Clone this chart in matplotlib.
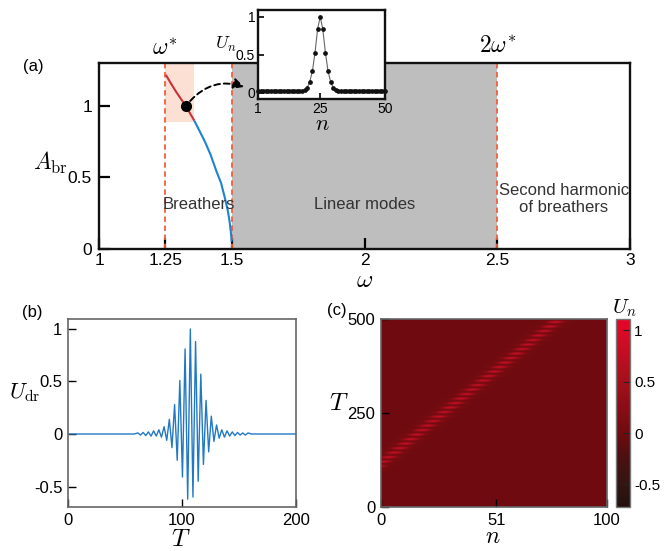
import numpy as np
import matplotlib
matplotlib.use("Agg")
import matplotlib.pyplot as plt
from matplotlib import font_manager
from matplotlib.colors import LinearSegmentedColormap
from matplotlib.patches import Rectangle, FancyArrowPatch

# ---------------- data ----------------
# (a) breather amplitude versus driving frequency
omega_curve = [1.252, 1.27, 1.29, 1.3265, 1.359, 1.38, 1.399, 1.42, 1.443,
               1.46, 1.475, 1.485, 1.492, 1.4965, 1.4997]
A_curve = [1.217, 1.16, 1.10, 1.0, 0.897, 0.82, 0.75, 0.66, 0.54,
           0.46, 0.35, 0.27, 0.19, 0.12, 0.05]
omega_split = 1.359          # end of the stable (red) branch
omega_star = 1.25
omega_edge = 1.5
omega_2star = 2.5
dot_omega, dot_A = 1.3265, 1.0

# inset: breather profile U_n
n_sites_inset = list(range(1, 51))
U_profile = [0.02, 0.02, 0.02, 0.02, 0.02, 0.02, 0.02, 0.02, 0.02, 0.02,
             0.02, 0.02, 0.02, 0.02, 0.02, 0.02, 0.02, 0.02, 0.04, 0.07,
             0.15, 0.29, 0.53, 0.84, 1.00, 0.84, 0.53, 0.29, 0.15, 0.07,
             0.04, 0.02, 0.02, 0.02, 0.02, 0.02, 0.02, 0.02, 0.02, 0.02,
             0.02, 0.02, 0.02, 0.02, 0.02, 0.02, 0.02, 0.02, 0.02, 0.02]

# (b) driving signal: successive extrema of U_dr(T)
T_drive = [0, 58.0,
           61.3, 63.6, 65.9, 68.2, 70.5, 72.8, 75.1, 77.4, 79.7, 82.0,
           84.3, 86.6, 88.9, 91.2, 93.5, 95.8, 98.1, 100.4, 102.7, 105.0,
           107.3, 109.6, 111.9, 114.2, 116.5, 118.8, 121.1, 123.4, 125.7, 128.0,
           130.3, 132.6, 134.9, 137.2, 139.5, 141.8, 144.1, 146.4, 148.7, 151.0,
           153.3, 155.6, 157.9, 161.0, 200]
U_drive = [0, 0.0,
           0.01, -0.01, 0.015, -0.015, 0.02, -0.02, 0.03, -0.02, 0.04, -0.03,
           0.07, -0.06, 0.14, -0.13, 0.28, -0.25, 0.51, -0.41, 0.81, -0.62,
           1.00, -0.60, 0.88, -0.45, 0.57, -0.29, 0.32, -0.17, 0.17, -0.07,
           0.086, -0.04, 0.04, -0.03, 0.03, -0.02, 0.02, -0.015, 0.015, -0.01,
           0.01, -0.01, 0.01, 0.0, 0.0]

# (c) travelling breather: path of its centre, cross-section and brightness cycle
track_T = [118, 500]
track_n = [0, 79]
stripe_offset = [-8, -6, -4, -3, -2, -1, 0, 1, 2, 3, 4, 6, 8]
stripe_value = [0.0, 0.05, 0.2, 0.45, 0.7, 0.9, 1.0, 0.9, 0.7, 0.45, 0.2, 0.05, 0.0]
pulse_cycle = [1.0, 1.0, 0.85, 0.55, 0.3, 0.12, 0.05, 0.05, 0.12, 0.3, 0.55, 0.85]
travel_amp = 0.9
travel_start = 92

# ---------------- style ----------------
names = {f.name for f in font_manager.fontManager.ttflist}
tick_font = 'Liberation Sans Narrow' if 'Liberation Sans Narrow' in names else 'Liberation Sans'
plt.rcParams['font.family'] = [tick_font, 'DejaVu Sans']
plt.rcParams['mathtext.fontset'] = 'cm'
plt.rcParams['axes.unicode_minus'] = False

W, H = 666, 551
fig = plt.figure(figsize=(W / 100, H / 100), dpi=100)


def box(x0, y0, x1, y1):
    return [x0 / W, 1 - y1 / H, (x1 - x0) / W, (y1 - y0) / H]


def fig_text(x, y, s, **kw):
    fig.text(x / W, 1 - y / H, s, ha='center', va='center', **kw)


label_font = 'Liberation Sans'
red_dash = '#f0603c'

# ---------------- panel (a) ----------------
ax = fig.add_axes(box(99, 63, 630, 249))
ax.set_xlim(1, 3)
ax.set_ylim(0, 1.30)
ax.axvspan(omega_edge, omega_2star, color='#bebebe', zorder=0, lw=0)
ax.add_patch(Rectangle((omega_star, 0.89), omega_split - omega_star, 0.6,
                       color='#fde0d4', lw=0, zorder=0.5))
for xv in (omega_star, omega_edge, omega_2star):
    ax.axvline(xv, color=red_dash, ls=(0, (3, 2)), lw=1.3, zorder=2)

om = np.array(omega_curve)
Av = np.array(A_curve)
ax.plot(om[om <= omega_split], Av[om <= omega_split], color='#c8303a', lw=1.5,
        zorder=3, solid_capstyle='butt')
ax.plot(om[om >= omega_split], Av[om >= omega_split], color='#1f82d0', lw=1.5,
        zorder=3, solid_capstyle='butt')
ax.plot([dot_omega], [dot_A], 'o', color='k', ms=7, zorder=4)

arrow = FancyArrowPatch((dot_omega + 0.01, dot_A + 0.02), (1.557, 1.126),
                        connectionstyle='arc3,rad=-0.35', arrowstyle='-|>',
                        mutation_scale=16, color='k', lw=1.4, ls=(0, (3, 2)),
                        zorder=5)
ax.add_patch(arrow)

ax.set_xticks([1, 1.25, 1.5, 2, 2.5, 3])
ax.set_xticklabels(['1', '1.25', '1.5', '2', '2.5', '3'])
ax.set_yticks([0, 0.5, 1])
ax.set_yticklabels(['0', '0.5', '1'])
ax.tick_params(direction='in', length=8, width=1.6, labelsize=12.5, colors='k')
ax.tick_params(axis='x', pad=3)
ax.tick_params(axis='y', pad=5)
for sp in ax.spines.values():
    sp.set_linewidth(1.7)
    sp.set_color('#111111')

ax.text(1.377, 0.31, 'Breathers', ha='center', va='center', fontsize=12,
        family=label_font, color='#333333', zorder=6)
ax.text(2.0, 0.31, 'Linear modes', ha='center', va='center', fontsize=12,
        family=label_font, color='#333333')
ax.text(2.75, 0.35, 'Second harmonic\nof breathers', ha='center', va='center',
        fontsize=12, family=label_font, color='#333333', linespacing=1.15)

fig_text(165, 49, r'$\omega^{*}$', fontsize=17)
fig_text(498, 46, r'$2\omega^{*}$', fontsize=17)
fig_text(50, 163, r'$A_{\rm br}$', fontsize=17)
fig_text(365, 280, r'$\omega$', fontsize=18)
fig_text(33, 67, '(a)', fontsize=12, family=label_font)

# inset with the breather profile
axi = fig.add_axes(box(258, 10, 385, 99))
axi.set_zorder(10)
axi.set_facecolor('white')
axi.plot(n_sites_inset, U_profile, '-', color='#666666', lw=0.8,
         marker='o', ms=2.4, mfc='#111111', mec='#111111', clip_on=False)
axi.set_xlim(1, 50)
axi.set_ylim(-0.08, 1.09)
axi.set_xticks([1, 25, 50])
axi.set_xticklabels(['1', '25', '50'])
axi.set_yticks([0, 0.5, 1])
axi.set_yticklabels(['0', '0.5', '1'])
axi.tick_params(direction='in', length=4, width=1.2, labelsize=10, pad=2)
for sp in axi.spines.values():
    sp.set_linewidth(1.7)
    sp.set_color('#111111')
fig_text(226, 44, r'$U_n$', fontsize=13)
fig_text(322, 125, r'$n$', fontsize=16)

# ---------------- panel (b) ----------------
axb = fig.add_axes(box(68, 319, 296, 507))
axb.plot(T_drive, U_drive, color='#2279c3', lw=1.0)
axb.set_xlim(0, 200)
axb.set_ylim(-0.695, 1.095)
axb.set_xticks([0, 100, 200])
axb.set_yticks([-0.5, 0, 0.5, 1])
axb.set_yticklabels(['-0.5', '0', '0.5', '1'])
axb.tick_params(direction='in', length=6, width=1.0, labelsize=12, pad=4)
for sp in axb.spines.values():
    sp.set_linewidth(1.2)
    sp.set_color('#666666')
fig_text(32, 312, '(b)', fontsize=12, family=label_font)
fig_text(25, 393, r'$U_{\rm dr}$', fontsize=16)
fig_text(181, 539, r'$T$', fontsize=18)

# ---------------- panel (c) ----------------
n_grid = np.arange(0, 101)
T_grid = np.arange(0, 501)
slope = (track_n[1] - track_n[0]) / (track_T[1] - track_T[0])
centre = track_n[0] + (T_grid - track_T[0]) * slope
dist = n_grid[None, :] - centre[:, None]
envelope = np.interp(dist, stripe_offset, stripe_value, left=0.0, right=0.0)
pulse = np.resize(np.array(pulse_cycle), T_grid.size)
field = travel_amp * envelope * pulse[:, None]
field[T_grid < travel_start, :] = 0.0

cmap = LinearSegmentedColormap.from_list('darkred', [
    (0.00, '#22110f'),
    (0.12, '#331512'),
    (0.27, '#4c1010'),
    (0.393, '#700b10'),
    (0.53, '#8a0c16'),
    (0.666, '#a3101c'),
    (0.94, '#dc0a28'),
    (1.00, '#ea0029'),
])

axc = fig.add_axes(box(381, 319, 607, 507))
im = axc.imshow(field, origin='lower', extent=[0, 100, 0, 500], aspect='auto',
                cmap=cmap, vmin=-0.72, vmax=1.11, interpolation='bilinear')
axc.set_xticks([0, 51, 100])
axc.set_yticks([0, 250, 500])
axc.tick_params(direction='in', length=6, width=1.0, labelsize=12, pad=4)
for sp in axc.spines.values():
    sp.set_linewidth(1.2)
    sp.set_color('#666666')
fig_text(337, 310, '(c)', fontsize=12, family=label_font)
fig_text(339, 403, r'$T$', fontsize=18)
fig_text(493, 537, r'$n$', fontsize=17)

cax = fig.add_axes(box(616, 319, 630, 507))
cb = fig.colorbar(im, cax=cax, ticks=[-0.5, 0, 0.5, 1])
cb.ax.set_yticklabels(['-0.5', '0', '0.5', '1'])
cb.ax.tick_params(direction='in', length=5, width=0.8, labelsize=11, pad=3, color='#222222')
cb.outline.set_edgecolor('#777777')
cb.outline.set_linewidth(1.0)
fig_text(624, 308, r'$U_n$', fontsize=15)

fig.savefig('out.png', dpi=100)
